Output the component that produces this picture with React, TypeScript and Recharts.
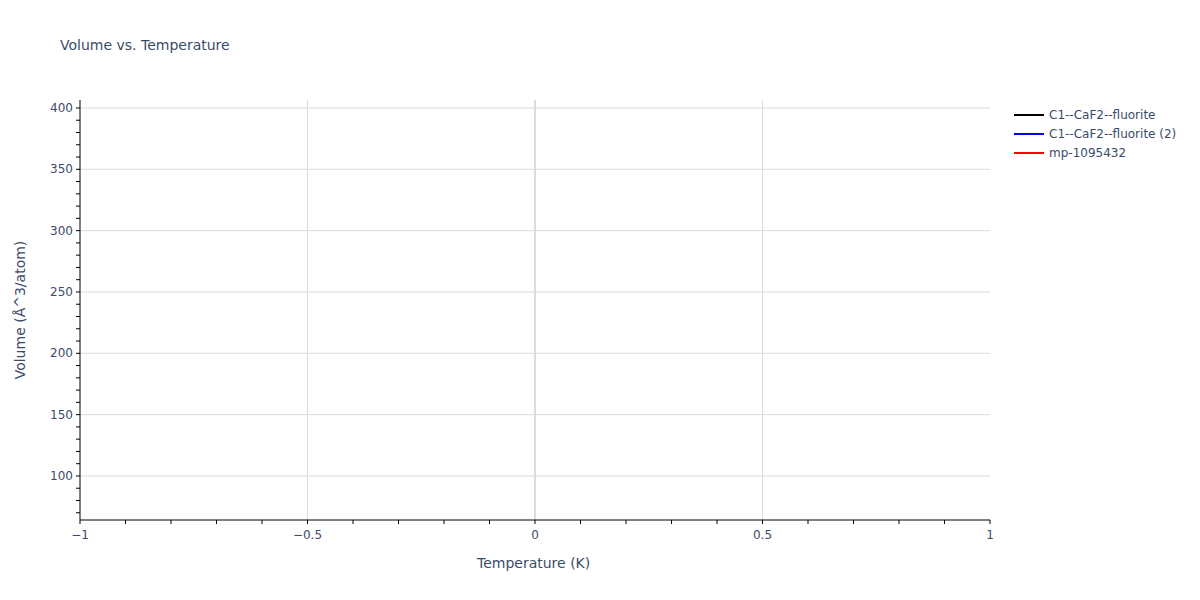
import { LineChart, Line, XAxis, YAxis, ReferenceLine } from "recharts";

// temperature (K) — the reference shows no plotted points
const temperatures: number[] = [0];
const fluoriteVolumes: (number | null)[] = [null];
const fluorite2Volumes: (number | null)[] = [null];
const mpVolumes: (number | null)[] = [null];

const seriesNames = ["C1--CaF2--fluorite", "C1--CaF2--fluorite (2)", "mp-1095432"];
const seriesColors = ["#000000", "#0000ff", "#ff0000"];

const xTicks = [-1, -0.9, -0.8, -0.7, -0.6, -0.5, -0.4, -0.3, -0.2, -0.1, 0, 0.1, 0.2, 0.3, 0.4, 0.5, 0.6, 0.7, 0.8, 0.9, 1];
const xMajor = [-1, -0.5, 0, 0.5, 1];
const yTicks = [70, 80, 90, 100, 110, 120, 130, 140, 150, 160, 170, 180, 190, 200, 210, 220, 230, 240, 250, 260, 270, 280, 290, 300, 310, 320, 330, 340, 350, 360, 370, 380, 390, 400];
const yMajor = [100, 150, 200, 250, 300, 350, 400];

const data = temperatures.map((t, i) => ({
  t,
  a: fluoriteVolumes[i],
  b: fluorite2Volumes[i],
  c: mpVolumes[i],
}));

const FONT = '"DejaVu Sans", Verdana, sans-serif';
const TEXT = "#3a4b6a";
const GRID = "#dcdcdc";

const fmt = (v: number) => (v < 0 ? "\u2212" + Math.abs(v) : String(v));

function XTick(props: any) {
  const { x, y, payload } = props;
  if (!xMajor.includes(payload.value)) return null;
  return (
    <text x={x} y={y + 13} textAnchor="middle" fill={TEXT} fontSize={12} fontFamily={FONT}>
      {fmt(payload.value)}
    </text>
  );
}

function YTick(props: any) {
  const { x, y, payload } = props;
  if (!yMajor.includes(payload.value)) return null;
  return (
    <text x={x - 1} y={y + 4} textAnchor="end" fill={TEXT} fontSize={12} fontFamily={FONT}>
      {payload.value}
    </text>
  );
}

export default function App() {
  return (
    <div style={{ position: "absolute", left: 0, top: 0, width: 1200, height: 600, background: "#fff", fontFamily: FONT }}>
      <div style={{ position: "absolute", left: 60, top: 37, fontSize: 14, color: TEXT }}>
        Volume vs. Temperature
      </div>
      <LineChart width={1200} height={600} data={data} margin={{ top: 100, right: 210, bottom: 50, left: 20 }}>
        {yMajor.map((v) => (
          <ReferenceLine key={"gy" + v} y={v} stroke={GRID} strokeWidth={1} />
        ))}
        {[-0.5, 0.5].map((v) => (
          <ReferenceLine key={"gx" + v} x={v} stroke={GRID} strokeWidth={1} />
        ))}
        <ReferenceLine x={0} stroke={GRID} strokeWidth={2} />
        <XAxis
          dataKey="t"
          type="number"
          domain={[-1, 1]}
          ticks={xTicks}
          interval={0}
          allowDataOverflow
          height={30}
          axisLine={{ stroke: "#000" }}
          tickLine={{ stroke: "#000" }}
          tickSize={4}
          tick={<XTick />}
        />
        <YAxis
          type="number"
          domain={[64.1, 406.5]}
          ticks={yTicks}
          interval={0}
          allowDataOverflow
          width={60}
          axisLine={{ stroke: "#000" }}
          tickLine={{ stroke: "#000" }}
          tickSize={4}
          tick={<YTick />}
        />
        <Line dataKey="a" name={seriesNames[0]} stroke={seriesColors[0]} strokeWidth={2} dot={false} isAnimationActive={false} />
        <Line dataKey="b" name={seriesNames[1]} stroke={seriesColors[1]} strokeWidth={2} dot={false} isAnimationActive={false} />
        <Line dataKey="c" name={seriesNames[2]} stroke={seriesColors[2]} strokeWidth={2} dot={false} isAnimationActive={false} />
      </LineChart>
      <div style={{ position: "absolute", left: 477, top: 555, fontSize: 14, color: TEXT }}>Temperature (K)</div>
      <div
        style={{
          position: "absolute",
          left: 20,
          top: 310,
          fontSize: 14,
          color: TEXT,
          whiteSpace: "nowrap",
          transform: "translate(-50%, -50%) rotate(-90deg)",
        }}
      >
        Volume (Å^3/atom)
      </div>
      <div style={{ position: "absolute", left: 1014, top: 105 }}>
        {seriesNames.map((n, i) => (
          <div key={n} style={{ display: "flex", alignItems: "center", height: 19, fontSize: 12, color: TEXT }}>
            <div style={{ width: 30, height: 2, background: seriesColors[i], marginRight: 5 }} />
            {n}
          </div>
        ))}
      </div>
    </div>
  );
}
